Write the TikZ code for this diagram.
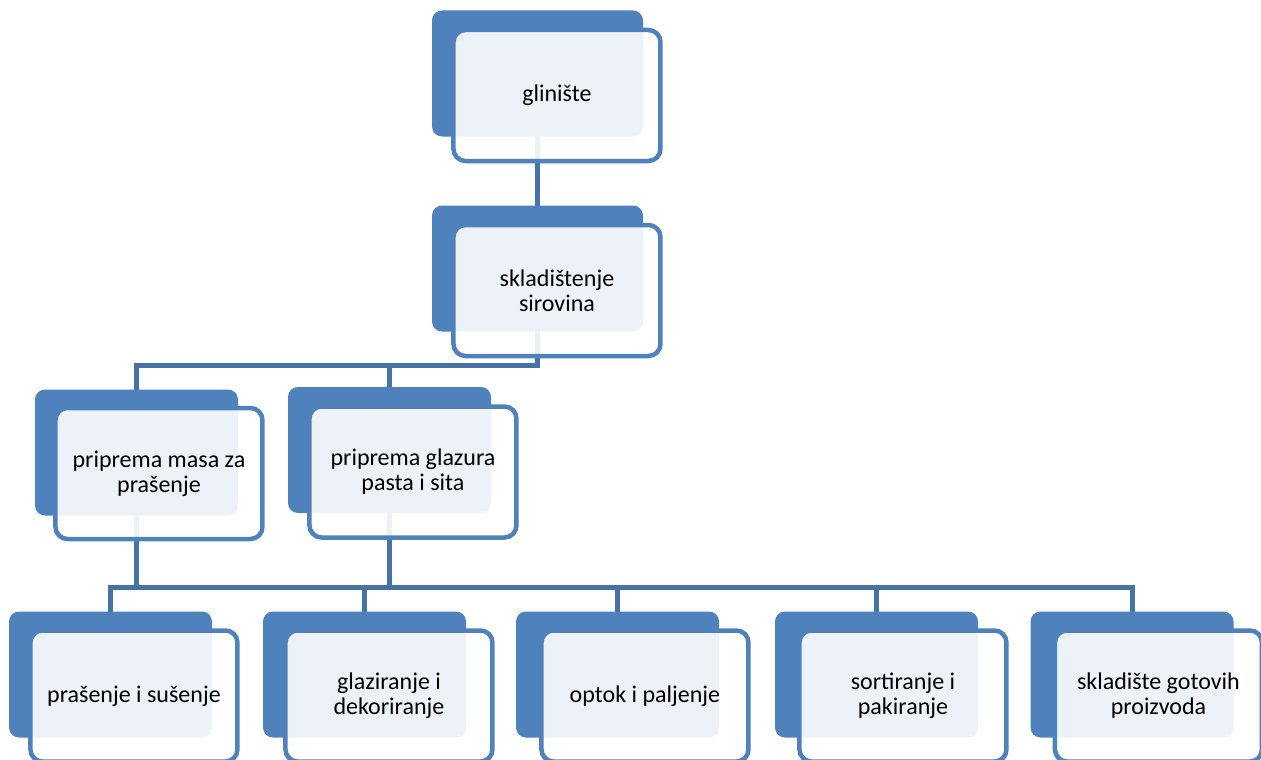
\documentclass[tikz,border=0pt]{standalone}
\usepackage{fontspec}
\setmainfont{Carlito}
\usetikzlibrary{positioning}
\definecolor{boxblue}{HTML}{4F81BD}
\definecolor{linkblue}{HTML}{4672A6}
\pgfdeclarelayer{background}
\pgfsetlayers{background,main}
\tikzset{
	back/.style={fill=boxblue, rounded corners=10pt, minimum width=203pt, minimum height=126pt, inner sep=0pt},
	wideback/.style={back, minimum width=211pt},
	front/.style={draw=boxblue, line width=4.5pt, fill=white, fill opacity=0.9, text opacity=1,
		rounded corners=12pt, minimum width=207pt, minimum height=131pt, inner sep=0pt,
		align=center, font=\fontsize{24}{25}\selectfont},
	link/.style={draw=linkblue, line width=5pt, line cap=rect}
}

\begin{document}
\begin{tikzpicture}[x=1pt, y=-1pt]
	\useasboundingbox (0,0) rectangle (1261,760);
	% Define nodes
	\node[wideback] (b1) at (537.5,73.5) {};
	\node[front, right=-192pt of b1, yshift=-22pt] (f1) {glinište};
	\node[wideback] (b2) at (537.5,268.5) {};
	\node[front, right=-192pt of b2, yshift=-22pt] (f2) {skladištenje\\sirovina};

	\node[back] (b3) at (136.5,452.5) {};
	\node[front, right=-185pt of b3, yshift=-21pt] (f3) {priprema masa za\\prašenje};
	\node[back] (b4) at (389.5,450) {};
	\node[front, right=-184pt of b4, yshift=-22pt] (f4) {priprema glazura\\pasta i sita};

	\node[back] (b5) at (110.5,674.5) {};
	\node[front, right=-184pt of b5, yshift=-21.5pt] (f5) {prašenje i sušenje};
	\node[back] (b6) at (364.5,674.5) {};
	\node[front, right=-183pt of b6, yshift=-21.5pt] (f6) {glaziranje i\\dekoriranje};
	\node[back] (b7) at (617.5,674.5) {};
	\node[front, right=-180pt of b7, yshift=-21.5pt] (f7) {optok i paljenje};
	\node[back] (b8) at (876.5,674.5) {};
	\node[front, right=-181pt of b8, yshift=-21.5pt] (f8) {sortiranje i\\pakiranje};
	\node[back] (b9) at (1132,674.5) {};
	\node[front, right=-181pt of b9, yshift=-21.5pt] (f9) {skladište gotovih\\proizvoda};

	% Connectors
	\coordinate (bar1) at (0,365);
	\coordinate (bar2) at (0,587);
	\begin{pgfonlayer}{background}
		\draw[link] (b1.south) -- (b2.north);
		\draw[link] (b2.south) -- (b2.south |- bar1) -| (b3.north);
		\draw[link] (b2.south |- bar1) -| (b4.north);
		\draw[link] (b3.south) -- (b3.south |- bar2);
		\draw[link] (b4.south) -- (b4.south |- bar2);
		\draw[link] (b5.north |- bar2) -- (b9.north |- bar2);
		\foreach \i in {5,...,9}
			\draw[link] (b\i.north |- bar2) -- (b\i.north);
	\end{pgfonlayer}
\end{tikzpicture}
\end{document}
